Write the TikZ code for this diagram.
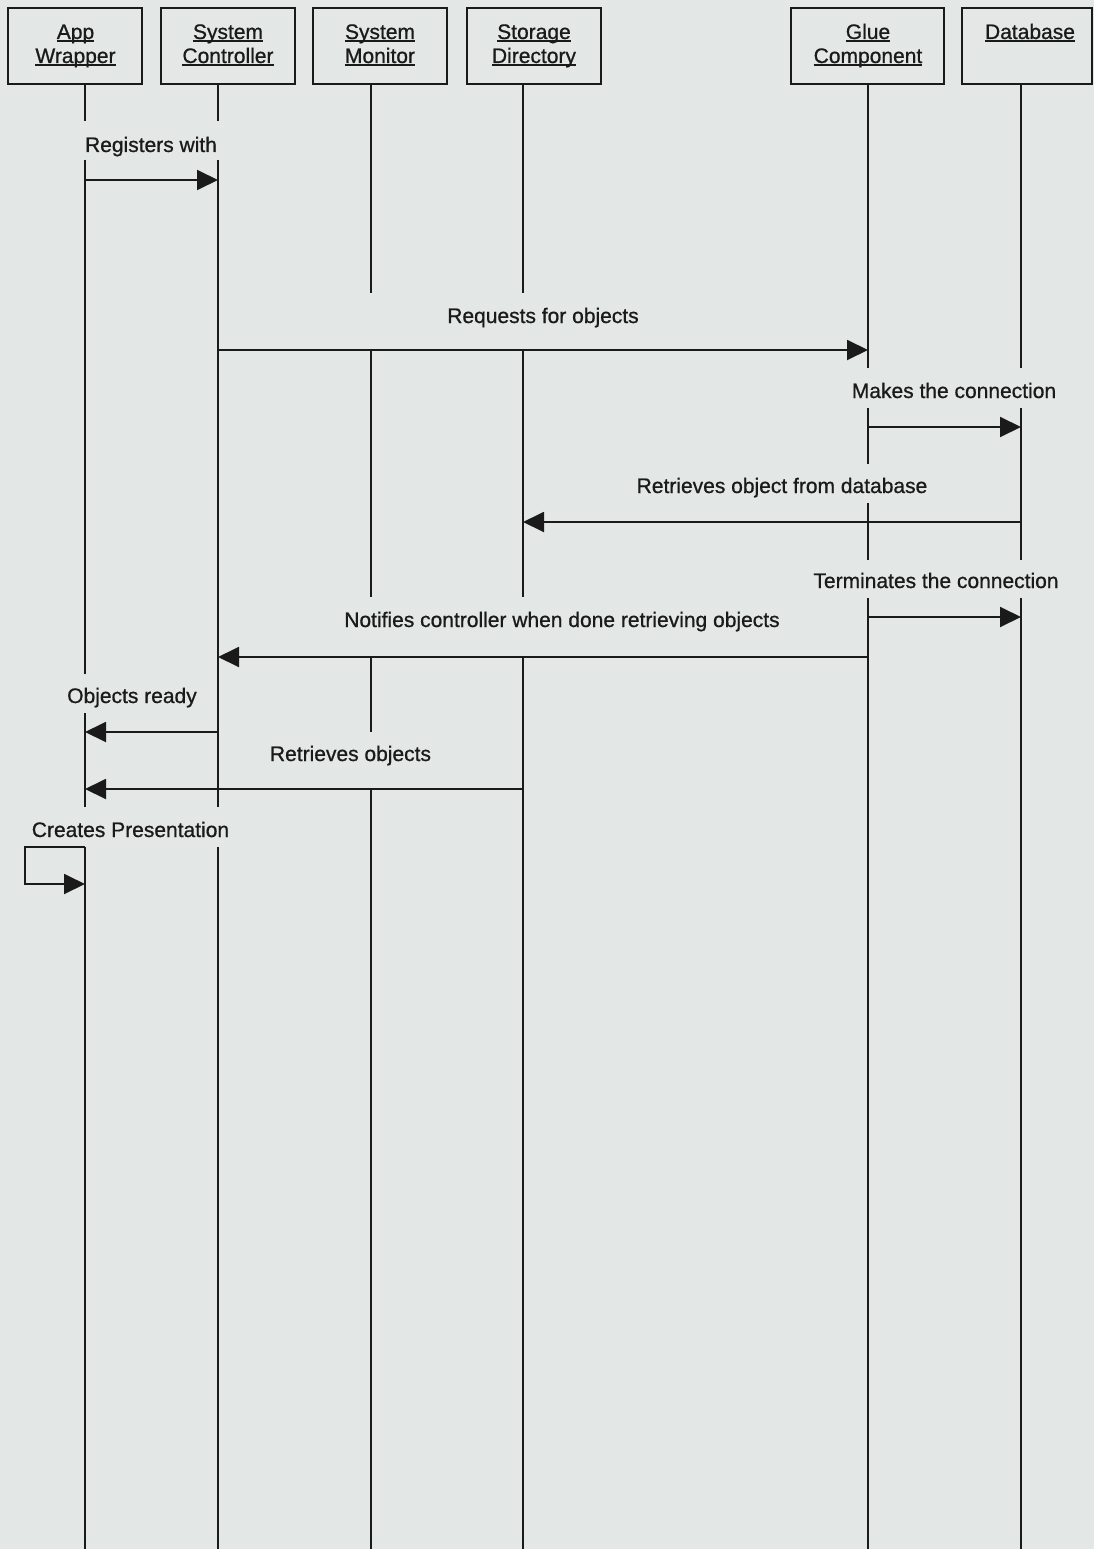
\documentclass[tikz,border=0pt]{standalone}
\usepackage{fontspec}
\setmainfont{Liberation Sans}[BoldFont=Liberation Sans, BoldFeatures={FakeBold=0.8}]
\usetikzlibrary{arrows.meta}
\definecolor{bg}{HTML}{E3E8E6}
\definecolor{ink}{HTML}{1A1A1A}
\newcommand\ulword[1]{\leavevmode\setbox0=\hbox{#1}\rlap{\rule[-3pt]{\wd0}{2pt}}\box0}
\begin{document}
\begin{tikzpicture}[x=1pt,y=-1pt,
  obj/.style={draw=ink, line width=2pt, rectangle, inner sep=0pt, minimum height=76pt},
  boxtext/.style={anchor=base, inner sep=0pt, text=ink, font=\fontsize{21}{24}\selectfont\bfseries},
  life/.style={draw=ink, line width=1.9pt},
  msg/.style={draw=ink, line width=1.9pt, -{Triangle[length=21pt,width=20pt]}},
  lbl/.style={anchor=base, inner sep=0pt, text=ink, font=\fontsize{21}{24}\selectfont\bfseries}]
\fill[bg] (0,0) rectangle (1094,1549);
\useasboundingbox (0,0) rectangle (1094,1549);

% object boxes
\node[obj, minimum width=134pt] (appbox) at (75,46) {};
\node[obj, minimum width=134pt] (ctlbox) at (228,46) {};
\node[obj, minimum width=134pt] (monbox) at (380,46) {};
\node[obj, minimum width=134pt] (stobox) at (534,46) {};
\node[obj, minimum width=153pt] (gluebox) at (867.5,46) {};
\node[obj, minimum width=130pt] (dbbox) at (1027,46) {};

\node[boxtext] (appt1) at (75.5,39) {\ulword{App}};
\node[boxtext] (appt2) at (75.5,63) {\ulword{Wrapper}};
\node[boxtext] (ctlt1) at (228,39) {\ulword{System}};
\node[boxtext] (ctlt2) at (228,63) {\ulword{Controller}};
\node[boxtext] (mont1) at (380,39) {\ulword{System}};
\node[boxtext] (mont2) at (380,63) {\ulword{Monitor}};
\node[boxtext] (stot1) at (534,39) {\ulword{Storage}};
\node[boxtext] (stot2) at (534,63) {\ulword{Directory}};
\node[boxtext] (gluet1) at (868,39) {\ulword{Glue}};
\node[boxtext] (gluet2) at (868,63) {\ulword{Component}};
\node[boxtext] (dbt1) at (1030,39) {\ulword{Database}};

% lifelines (segments interrupted by labels)
\foreach \a/\b in {84/121,160/674,713/807,847/1549} \draw[life] (85,\a) -- (85,\b);
\foreach \a/\b in {84/121,160/807,847/1549} \draw[life] (218,\a) -- (218,\b);
\foreach \a/\b in {84/293,350/597,657/732,790/1549} \draw[life] (371,\a) -- (371,\b);
\foreach \a/\b in {84/293,350/597,657/1549} \draw[life] (523,\a) -- (523,\b);
\foreach \a/\b in {84/368,408/464,503/560,598/1549} \draw[life] (868,\a) -- (868,\b);
\foreach \a/\b in {84/368,408/560,598/1549} \draw[life] (1021,\a) -- (1021,\b);

% message end points
\coordinate (m1s) at (85,180);   \coordinate (m1e) at (218,180);
\coordinate (m2s) at (218,350);  \coordinate (m2e) at (868,350);
\coordinate (m3s) at (868,427);  \coordinate (m3e) at (1021,427);
\coordinate (m4s) at (1021,522); \coordinate (m4e) at (523,522);
\coordinate (m5s) at (868,617);  \coordinate (m5e) at (1021,617);
\coordinate (m6s) at (868,657);  \coordinate (m6e) at (218,657);
\coordinate (m7s) at (218,732);  \coordinate (m7e) at (85,732);
\coordinate (m8s) at (523,789);  \coordinate (m8e) at (85,789);
\coordinate (m9s) at (85,847);   \coordinate (m9k) at (25,847); \coordinate (m9e) at (85,884);

\draw[msg] (m1s) -- (m1e);
\draw[msg] (m2s) -- (m2e);
\draw[msg] (m3s) -- (m3e);
\draw[msg] (m4s) -- (m4e);
\draw[msg] (m5s) -- (m5e);
\draw[msg] (m6s) -- (m6e);
\draw[msg] (m7s) -- (m7e);
\draw[msg] (m8s) -- (m8e);
\draw[msg] (m9s) -- (m9k) |- (m9e);

% labels
\node[lbl] (l1) at (151,152) {Registers with};
\node[lbl] (l2) at (543,323) {Requests for objects};
\node[lbl] (l3) at (954,398) {Makes the connection};
\node[lbl] (l4) at (782,493) {Retrieves object from database};
\node[lbl] (l5) at (936,588) {Terminates the connection};
\node[lbl] (l6) at (562,627) {Notifies controller when done retrieving objects};
\node[lbl] (l7) at (132,703) {Objects ready};
\node[lbl] (l8) at (350.5,761) {Retrieves objects};
\node[lbl] (l9) at (130.5,837) {Creates Presentation};
\end{tikzpicture}
\end{document}
